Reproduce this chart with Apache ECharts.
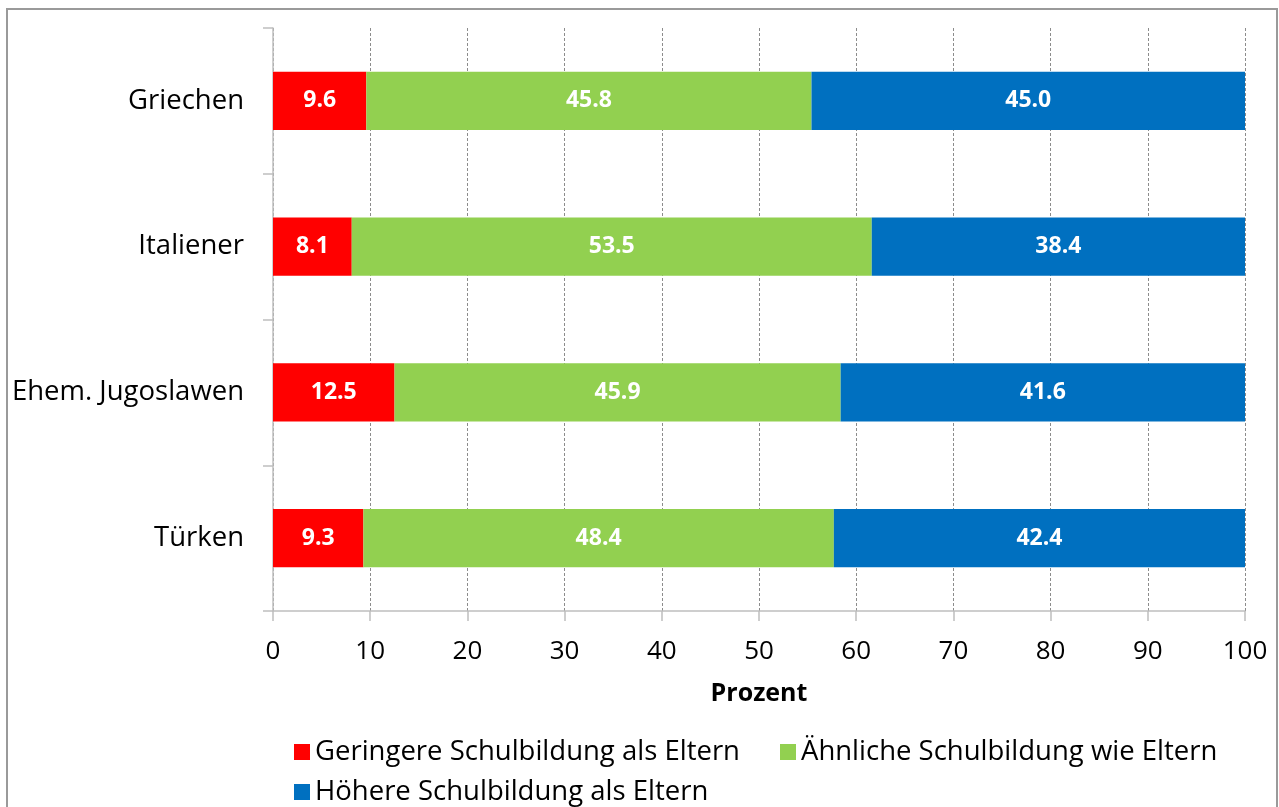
<!DOCTYPE html>
<html>
<head>
<meta charset="utf-8">
<script src="https://cdn.jsdelivr.net/npm/echarts@6/dist/echarts.min.js"></script>
<style>
  html, body { margin: 0; padding: 0; background: #fff; }
  #chart { width: 1279px; height: 807px; }
</style>
</head>
<body>
<div id="chart"></div>
<script>
	var categories = ['Griechen', 'Italiener', 'Ehem. Jugoslawen', 'Türken'];
	var seriesNames = ['Geringere Schulbildung als Eltern', 'Ähnliche Schulbildung wie Eltern', 'Höhere Schulbildung als Eltern'];
	var lowerValues = [9.6, 8.1, 12.5, 9.3];
	var similarValues = [45.8, 53.5, 45.9, 48.4];
	var higherValues = [45.0, 38.4, 41.6, 42.4];
	var xTicks = [0, 10, 20, 30, 40, 50, 60, 70, 80, 90, 100];

	var font = 'Open Sans';
	var colors = ['#ff0000', '#92d050', '#0070c0'];

	function makeSeries(name, data) {
		return {
			name: name,
			type: 'bar',
			stack: 'total',
			data: data,
			barCategoryGap: '60%',
			label: {
				show: true,
				position: 'inside',
				color: '#fff',
				fontFamily: font,
				fontWeight: 'bold',
				fontSize: 23,
				formatter: function (p) { return p.value.toFixed(1); }
			}
		};
	}

	var legendText = { fontFamily: font, fontSize: 27.5, color: '#000' };

	var option = {
		animation: false,
		color: colors,
		grid: {
			top: 28,
			left: 273,
			right: 34,
			bottom: 196,
			containLabel: false
		},
		graphic: [{
			type: 'rect',
			shape: { x: 7, y: 9, width: 1270, height: 850 },
			style: { fill: 'none', stroke: '#9a9a9a', lineWidth: 2 },
			silent: true
		}],
		legend: [{
			left: 289,
			top: 733,
			itemWidth: 16,
			itemHeight: 16,
			itemGap: 40,
			icon: 'rect',
			textStyle: legendText,
			data: seriesNames.slice(0, 2)
		}, {
			left: 289,
			top: 773,
			itemWidth: 16,
			itemHeight: 16,
			icon: 'rect',
			textStyle: legendText,
			data: seriesNames.slice(2)
		}],
		xAxis: {
			type: 'value',
			min: xTicks[0],
			max: xTicks[xTicks.length - 1],
			interval: 10,
			name: 'Prozent',
			nameLocation: 'middle',
			nameGap: 70,
			nameTextStyle: { fontFamily: font, fontSize: 25, fontWeight: 'bold', color: '#000' },
			axisLine: { show: true, lineStyle: { color: '#bfbfbf', width: 1.5 } },
			axisTick: { show: true, length: 10, lineStyle: { color: '#bfbfbf', width: 1.5 } },
			axisLabel: { fontFamily: font, fontSize: 26, color: '#000', margin: 28 },
			splitLine: { show: true, lineStyle: { color: '#8c8c8c', type: [3, 2], width: 1 } }
		},
		yAxis: {
			type: 'category',
			inverse: true,
			data: categories,
			axisLine: { show: true, lineStyle: { color: '#bfbfbf', width: 1.5 } },
			axisTick: { show: true, length: 10, lineStyle: { color: '#bfbfbf', width: 1.5 } },
			axisLabel: { fontFamily: font, fontSize: 27.5, color: '#000', margin: 29 }
		},
		series: [
			makeSeries(seriesNames[0], lowerValues),
			makeSeries(seriesNames[1], similarValues),
			makeSeries(seriesNames[2], higherValues)
		]
	};

	var chart = echarts.init(document.getElementById('chart'));
	chart.setOption(option);
</script>
</body>
</html>
